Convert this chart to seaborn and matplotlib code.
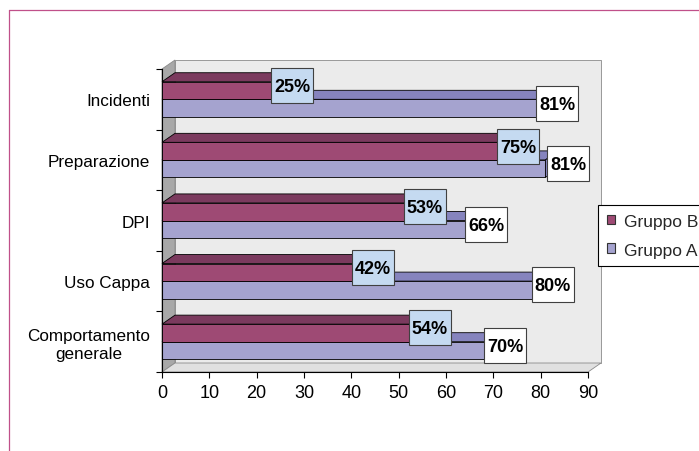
import numpy as np
import pandas as pd
import matplotlib.pyplot as plt
import matplotlib.transforms as mtransforms
from matplotlib.patches import Polygon, Rectangle, Patch
from matplotlib.lines import Line2D
import seaborn as sns

# data
categorie = ["Incidenti", "Preparazione", "DPI", "Uso Cappa", "Comportamento\ngenerale"]
gruppi = ["Gruppo B", "Gruppo A"]
gruppo_b = [25, 75, 53, 42, 54]
gruppo_a = [81, 81, 66, 80, 70]
x_ticks = [0, 10, 20, 30, 40, 50, 60, 70, 80, 90]

col_b, col_a = "#9E4A74", "#A5A3CF"
top_b, top_a = "#7B3A5E", "#8684BE"
DX, DY = 13, 9  # depth of the fake 3D effect, pixels

sns.set_style("white")
plt.rcParams["font.family"] = ["Liberation Sans", "DejaVu Sans"]

df = pd.DataFrame({
    "categoria": categorie * 2,
    "gruppo": [gruppi[0]] * len(categorie) + [gruppi[1]] * len(categorie),
    "valore": gruppo_b + gruppo_a,
})

fig = plt.figure(figsize=(6.99, 4.52), dpi=100)
ax = fig.add_axes([162 / 699, 1 - 373 / 452, 426 / 699, 303 / 452])
sns.barplot(data=df, x="valore", y="categoria", hue="gruppo", order=categorie,
            hue_order=gruppi, palette=[col_b, col_a], saturation=1, width=0.58,
            edgecolor="black", linewidth=0.6, legend=False, ax=ax)

ax.set_xlim(0, 90)
ax.set_ylim(len(categorie) - 0.5, -0.5)
ax.set_xticks(x_ticks)
ax.set_yticks(np.arange(len(categorie) + 1) - 0.5, minor=True)
ax.tick_params(axis="y", which="major", length=0, pad=8.5, labelsize=12.3, labelcolor="black")
ax.tick_params(axis="y", which="minor", left=True, length=4, width=0.8, color="black")
ax.tick_params(axis="x", bottom=True, length=4, width=0.8, color="black", pad=5,
               labelsize=13, labelcolor="black")
for lbl in ax.get_yticklabels():
    lbl.set_multialignment("center")
ax.set_xlabel("")
ax.set_ylabel("")
for s in ["top", "right"]:
    ax.spines[s].set_visible(False)
for s in ["left", "bottom"]:
    ax.spines[s].set_color("black")
    ax.spines[s].set_linewidth(0.8)
ax.patch.set_alpha(0)

fig.canvas.draw()
ident = mtransforms.IdentityTransform()

# walls of the 3D box
bb = ax.get_window_extent()
x0, y0, x1, y1 = bb.x0, bb.y0, bb.x1, bb.y1
walls = [
    ([(x0 + DX, y0 + DY), (x1 + DX, y0 + DY), (x1 + DX, y1 + DY), (x0 + DX, y1 + DY)], "#EBEBEB"),
    ([(x0, y0), (x0 + DX, y0 + DY), (x0 + DX, y1 + DY), (x0, y1)], "#A8A8A8"),
    ([(x0, y0), (x1, y0), (x1 + DX, y0 + DY), (x0 + DX, y0 + DY)], "#E0E0E0"),
]
for pts, c in walls:
    ax.add_patch(Polygon(pts, closed=True, facecolor=c, edgecolor="#8A8A8A", lw=0.6,
                         transform=ident, clip_on=False, zorder=0.5))

# top and side faces of the bars
for i, cont in enumerate(ax.containers):
    zb = 3 if i == 0 else 2
    dark = [top_b, top_a][i]
    for bar in cont:
        bar.set_zorder(zb)
        e = bar.get_window_extent()
        top = [(e.x0, e.y1), (e.x1, e.y1), (e.x1 + DX, e.y1 + DY), (e.x0 + DX, e.y1 + DY)]
        side = [(e.x1, e.y0), (e.x1, e.y1), (e.x1 + DX, e.y1 + DY), (e.x1 + DX, e.y0 + DY)]
        for pts in (top, side):
            ax.add_patch(Polygon(pts, closed=True, facecolor=dark, edgecolor="black", lw=0.6,
                                 transform=ident, clip_on=False, zorder=zb + 0.1))

# value labels in boxes
renderer = fig.canvas.get_renderer()
labels = {}
for i, cont in enumerate(ax.containers):
    vals = [gruppo_b, gruppo_a][i]
    for bar in cont:
        k = int(round(bar.get_y() + bar.get_height() / 2))
        e = bar.get_window_extent()
        cx = e.x1 + DX - 1
        cy = (e.y0 + e.y1) / 2 + 6
        t = ax.text(cx, cy, f"{vals[k]}%", transform=ident, ha="center", va="center_baseline",
                    fontsize=13, fontweight="bold", color="black", zorder=7, clip_on=False)
        w = t.get_window_extent(renderer).width + 6
        labels.setdefault(k, []).append([t, cx, cy, w, i])

for k, items in labels.items():
    items.sort(key=lambda it: it[1])
    for a, b in zip(items[:-1], items[1:]):
        need = (a[3] + b[3]) / 2 + 8
        gap = b[1] - a[1]
        if gap < need:
            shift = (need - gap) / 2
            a[1] -= shift
            b[1] += shift
    for t, cx, cy, w, i in items:
        t.set_position((cx, cy))
        h = 35
        ax.add_patch(Rectangle((cx - w / 2, cy - h / 2 - 1), w, h, transform=ident, clip_on=False,
                               facecolor=["#C5DAF1", "white"][i], edgecolor="#404040", lw=0.8,
                               zorder=6))

# legend
handles = [Patch(facecolor=col_b, edgecolor="#333333", lw=0.8),
           Patch(facecolor=col_a, edgecolor="#333333", lw=0.8)]
leg = fig.legend(handles, gruppi, loc="upper left", bbox_to_anchor=(598 / 699, 1 - 206 / 452),
                 fontsize=12.5, frameon=True, fancybox=False, framealpha=1, edgecolor="black",
                 borderpad=0.5, handlelength=0.5, handleheight=0.5, handletextpad=0.5,
                 labelspacing=0.8, borderaxespad=0)
leg.get_frame().set_linewidth(0.8)

# pink frame, cut by the right and bottom edges
fig.add_artist(Line2D([9 / 699, 1], [1 - 10.5 / 452] * 2, color="#C0508A", lw=0.9))
fig.add_artist(Line2D([9 / 699] * 2, [0, 1 - 10.5 / 452], color="#C0508A", lw=0.9))

fig.savefig("out.png", dpi=100)
